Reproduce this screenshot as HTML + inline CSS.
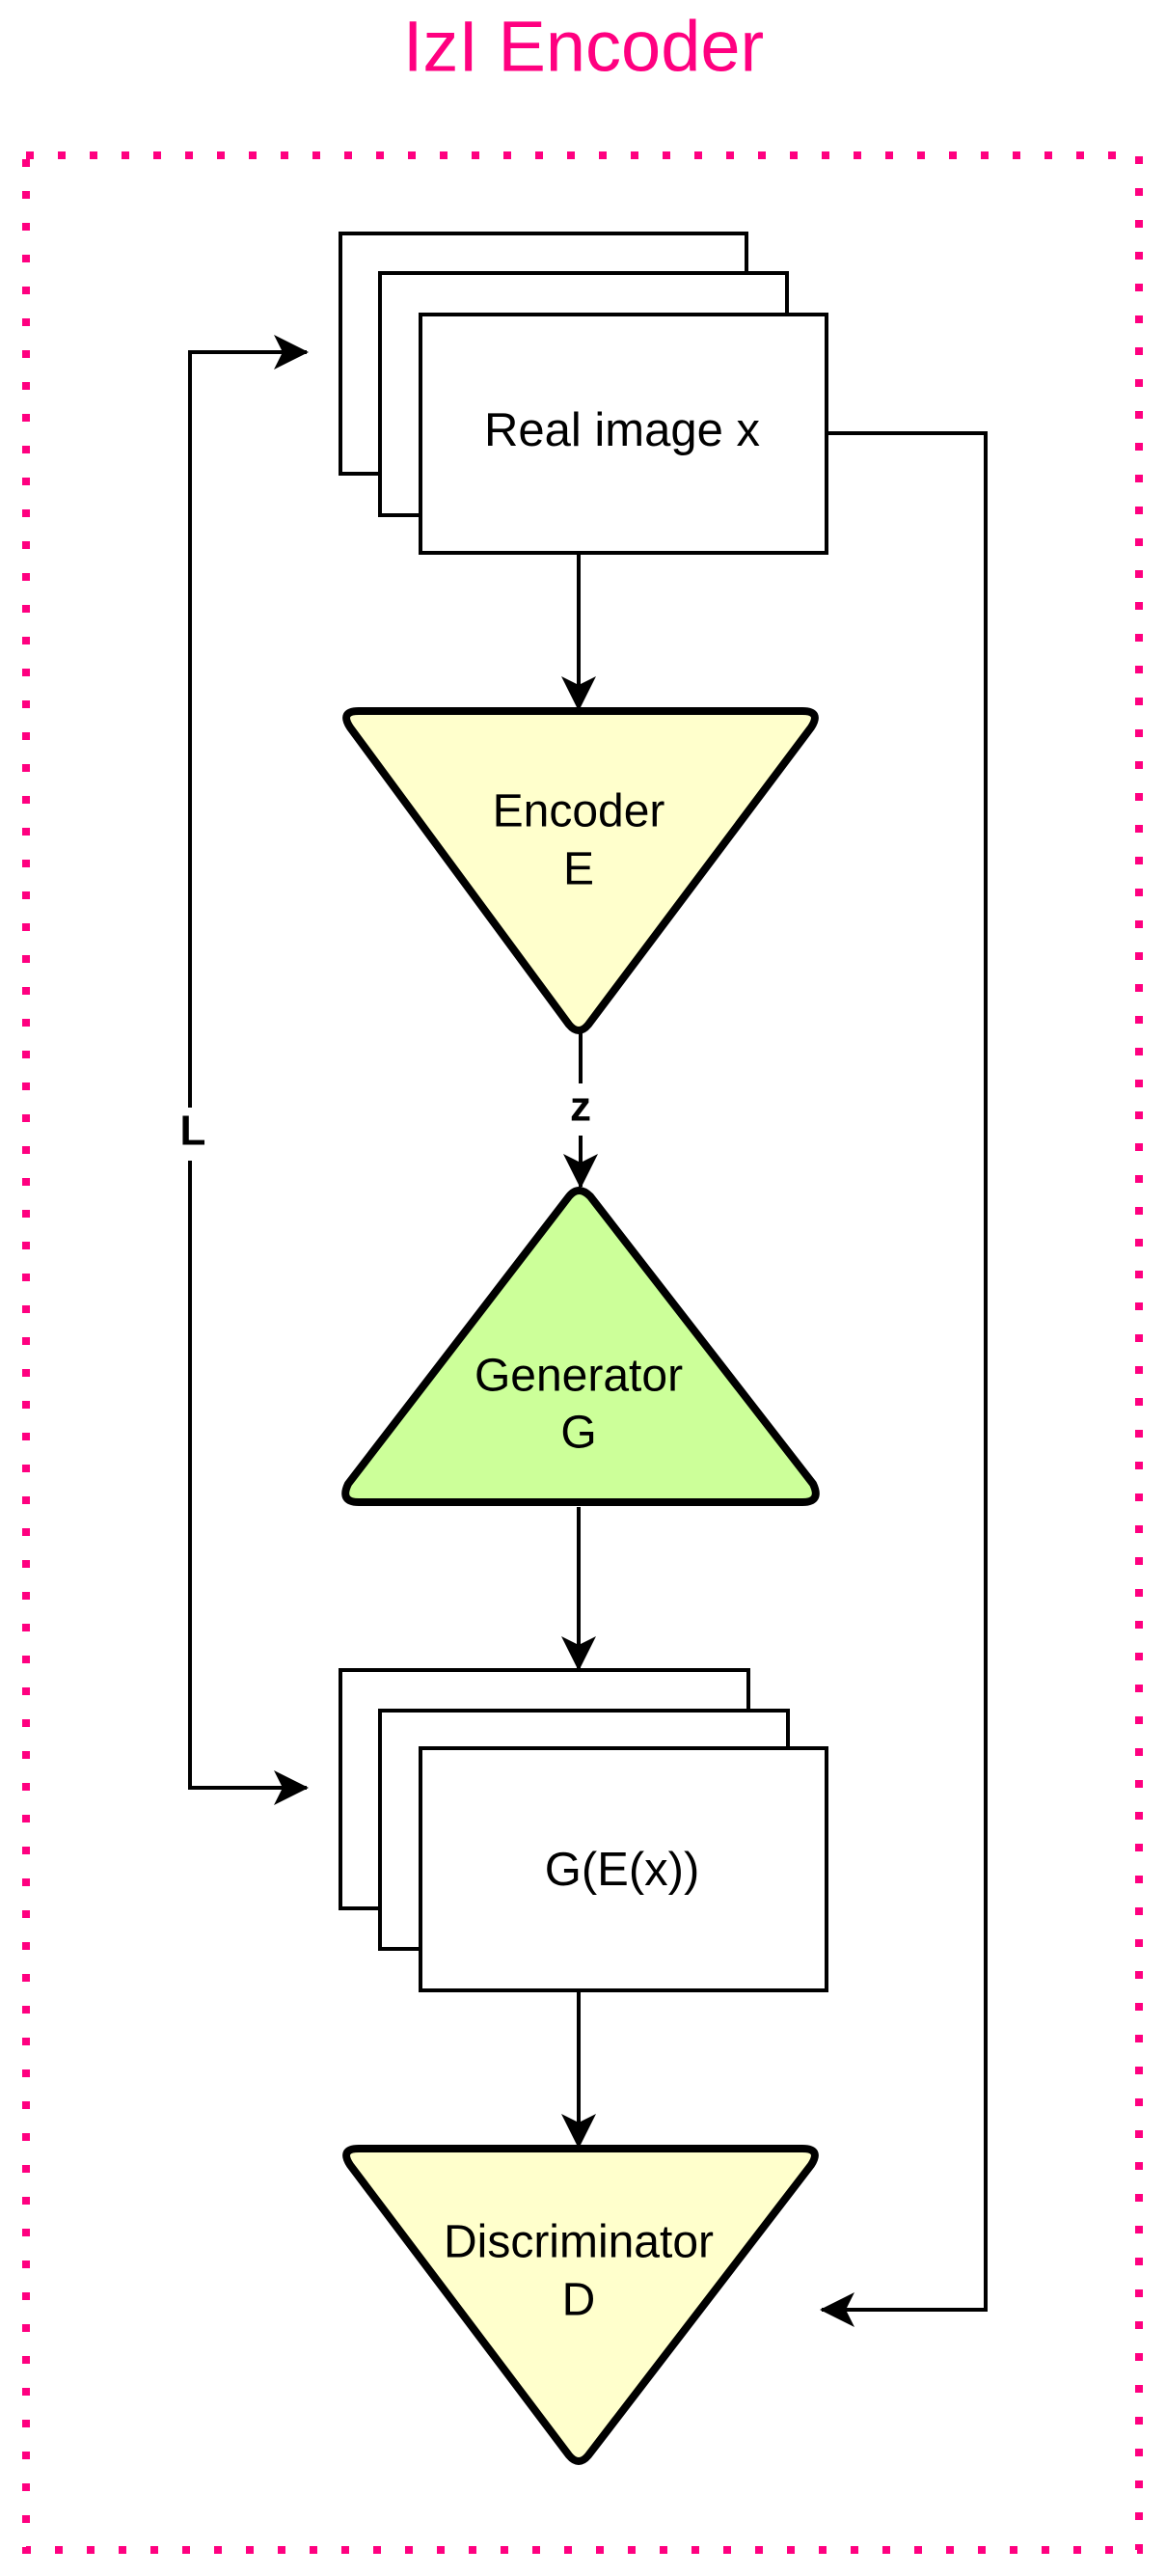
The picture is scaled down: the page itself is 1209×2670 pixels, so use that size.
<!DOCTYPE html>
<html><head><meta charset="utf-8"><style>
html,body{margin:0;padding:0;background:#fff;}
svg{display:block;}
text{font-family:"Liberation Sans",Arial,sans-serif;}
</style></head><body>
<svg width="1209" height="2670" viewBox="0 0 1209 2670" xmlns="http://www.w3.org/2000/svg">
<defs>
<marker id="ah" viewBox="0 0 36 36" refX="34" refY="18" markerWidth="36" markerHeight="36" markerUnits="userSpaceOnUse" orient="auto">
<path d="M0,0 L36,18 L0,36 L9,18 Z" fill="#000"/>
</marker>
</defs>
<text x="605" y="54" font-size="74" fill="#ff0080" text-anchor="middle" dominant-baseline="middle">IzI Encoder</text>
<rect x="27" y="161" width="1154" height="2482" fill="none" stroke="#ff0080" stroke-width="8" stroke-dasharray="8 25"/>

<!-- Real image stack -->
<g fill="#fff" stroke="#000" stroke-width="4">
<rect x="353" y="242" width="421" height="249"/>
<rect x="394" y="283" width="422" height="251"/>
<rect x="436" y="326" width="421" height="247"/>
</g>
<text x="645" y="449" font-size="49" text-anchor="middle" dominant-baseline="middle">Real image x</text>

<!-- G(E(x)) stack -->
<g fill="#fff" stroke="#000" stroke-width="4">
<rect x="353" y="1731" width="423" height="247"/>
<rect x="394" y="1773" width="423" height="247"/>
<rect x="436" y="1812" width="421" height="251"/>
</g>
<text x="645" y="1941" font-size="49" text-anchor="middle" dominant-baseline="middle">G(E(x))</text>

<!-- Triangles -->
<g stroke="#000" stroke-width="8" stroke-linejoin="round">
<path d="M372,737 L832,737 Q852,737 841,754 L610,1062 Q600,1074 590,1062 L363,754 Q352,737 372,737 Z" fill="#ffffcc"/>
<path d="M590,1240 Q600,1228 612,1240 L843,1538 Q852,1557 832,1557 L372,1557 Q352,1557 361,1538 Z" fill="#ccff99"/>
<path d="M372,2227 L832,2227 Q852,2227 841,2244 L610,2545 Q600,2557 590,2545 L363,2244 Q352,2227 372,2227 Z" fill="#ffffcc"/>
</g>
<text x="600" y="844" font-size="48" text-anchor="middle" dominant-baseline="middle">Encoder</text>
<text x="600" y="904" font-size="48" text-anchor="middle" dominant-baseline="middle">E</text>
<text x="600" y="1429" font-size="48" text-anchor="middle" dominant-baseline="middle">Generator</text>
<text x="600" y="1488" font-size="48" text-anchor="middle" dominant-baseline="middle">G</text>
<text x="600" y="2327" font-size="48" text-anchor="middle" dominant-baseline="middle">Discriminator</text>
<text x="600" y="2387" font-size="48" text-anchor="middle" dominant-baseline="middle">D</text>

<!-- Connectors -->
<g stroke="#000" stroke-width="4" fill="none">
<line x1="600" y1="573" x2="600" y2="735" marker-end="url(#ah)"/>
<line x1="602" y1="1070" x2="602" y2="1123"/>
<line x1="602" y1="1177" x2="602" y2="1230" marker-end="url(#ah)"/>
<line x1="600" y1="1562" x2="600" y2="1730" marker-end="url(#ah)"/>
<line x1="600" y1="2063" x2="600" y2="2225" marker-end="url(#ah)"/>
<polyline points="197,1148 197,365 318,365" marker-end="url(#ah)"/>
<polyline points="197,1203 197,1853 318,1853" marker-end="url(#ah)"/>
<polyline points="857,449 1022,449 1022,2394 852,2394" marker-end="url(#ah)"/>
</g>
<text x="602" y="1150" font-size="44" font-weight="bold" text-anchor="middle" dominant-baseline="middle">z</text>
<text x="200" y="1175" font-size="44" font-weight="bold" text-anchor="middle" dominant-baseline="middle">L</text>
</svg>
</body></html>
